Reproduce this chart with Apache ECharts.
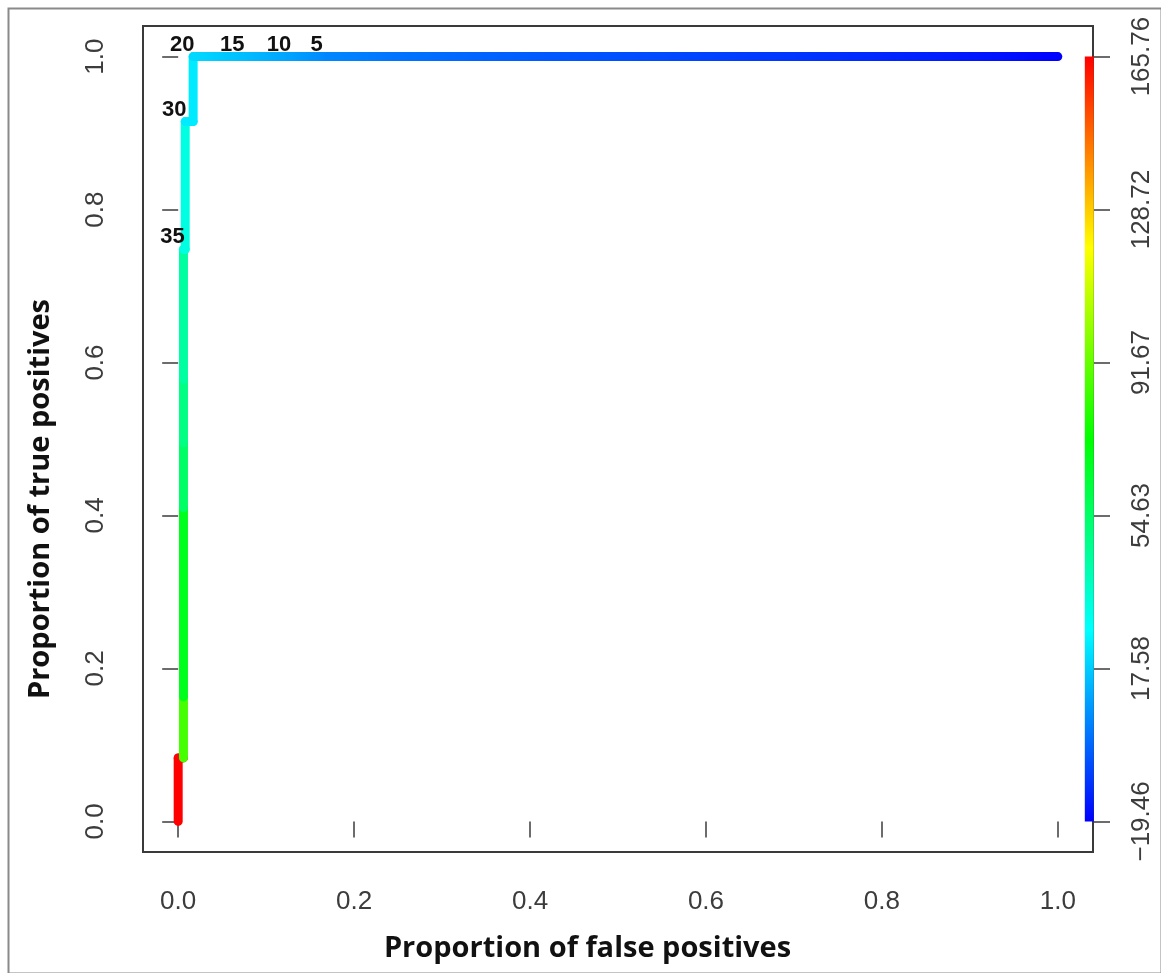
<!DOCTYPE html>
<html>
<head>
<meta charset="utf-8">
<script src="https://cdn.jsdelivr.net/npm/echarts@6/dist/echarts.min.js"></script>
<style>
html,body{margin:0;padding:0;background:#fff;}
#chart{width:1161px;height:973px;}
</style>
</head>
<body>
<div id="chart"></div>
<script>
// ROC curve points (false positive rate, true positive rate, cutoff)
const fpr    = [0, 0, 0.006, 0.006, 0.006, 0.006, 0.006, 0.006, 0.006, 0.006, 0.006, 0.006, 0.006, 0.006, 0.008, 0.008, 0.008, 0.017, 0.017, 0.017, 0.074, 0.127, 0.17, 0.25, 0.35, 0.45, 0.55, 0.65, 0.75, 0.85, 0.93, 1.0];
const tpr    = [0, 0.083, 0.083, 0.083, 0.163, 0.163, 0.41, 0.41, 0.495, 0.495, 0.578, 0.578, 0.748, 0.748, 0.748, 0.915, 0.915, 0.915, 1, 1, 1, 1, 1, 1, 1, 1, 1, 1, 1, 1, 1, 1];
const cutoff = [165.76, 165.76, 165.76, 85.9, 85.9, 67.8, 67.8, 55.0, 55.0, 49.5, 49.5, 44.1, 44.1, 32.2, 32.2, 32.2, 23.2, 23.2, 23.2, 20, 15, 10, 5, 1.5, -1.5, -4, -6, -8.5, -11, -13.5, -16, -19.46];

// printed cutoff labels and where they sit on the curve
const cutLabels   = [20, 15, 10, 5, 30, 35];
const cutLabelFpr = [0.017, 0.074, 0.127, 0.17, 0.008, 0.006];
const cutLabelTpr = [1, 1, 1, 1, 0.915, 0.748];

// axis ticks
const xTicks = [0, 0.2, 0.4, 0.6, 0.8, 1.0];
const yTicks = [0, 0.2, 0.4, 0.6, 0.8, 1.0];
const colorbarTicks = [-19.46, 17.58, 54.63, 91.67, 128.72, 165.76];
const cutMin = -19.46, cutMax = 165.76;
const colorbarX = 1.0358;

const pad = 0.04;
const cutRange = cutMax - cutMin;

function hsv(h, s, v) {
  const c = v * s, hp = h / 60, x = c * (1 - Math.abs(hp % 2 - 1));
  let r = 0, g = 0, b = 0;
  if (hp < 1) { r = c; g = x; } else if (hp < 2) { r = x; g = c; }
  else if (hp < 3) { g = c; b = x; } else if (hp < 4) { g = x; b = c; }
  else if (hp < 5) { r = x; b = c; } else { r = c; b = x; }
  const m = v - c;
  const to = t => Math.round((t + m) * 255);
  return 'rgb(' + to(r) + ',' + to(g) + ',' + to(b) + ')';
}
function rainbow(c) {
  let f = (c - cutMin) / cutRange;
  f = Math.max(0, Math.min(1, f));
  return hsv(240 * (1 - f), 1, 1);
}

const segs = [];
for (let i = 0; i < fpr.length - 1; i++) {
  segs.push([fpr[i], tpr[i], fpr[i + 1], tpr[i + 1], cutoff[i], cutoff[i + 1]]);
}
const labelData = cutLabels.map((v, i) => [cutLabelFpr[i], cutLabelTpr[i], v]);

const chart = echarts.init(document.getElementById('chart'), null, {renderer: 'canvas'});
const tickColor = '#3c3c3c';
const labelFont = {fontFamily: 'Liberation Sans, Arial, sans-serif', fontSize: 26, color: '#3c3c3c', lineHeight: 26};
const titleFont = {fontFamily: 'Open Sans, sans-serif', fontSize: 29, fontWeight: 'bold', color: '#111'};

chart.setOption({
  animation: false,
  backgroundColor: '#fff',
  graphic: [{
    type: 'rect', left: 6, top: 6, silent: true,
    shape: {width: 1153, height: 965},
    style: {fill: 'none', stroke: '#8a8a8a', lineWidth: 2}
  }],
  grid: {left: 143, top: 26, width: 950, height: 826, show: true, borderColor: '#3a3a3a', borderWidth: 2, backgroundColor: 'transparent'},
  xAxis: {
    type: 'value', min: -pad, max: 1 + pad,
    name: 'Proportion of false positives', nameLocation: 'middle', nameGap: 82,
    nameTextStyle: Object.assign({padding: [0, 61, 0, 0]}, titleFont),
    axisLine: {show: false},
    splitLine: {show: false},
    axisTick: {show: true, length: 16, customValues: xTicks, lineStyle: {color: tickColor, width: 1.5}},
    axisLabel: Object.assign({customValues: xTicks, margin: 37, formatter: v => v.toFixed(1)}, labelFont)
  },
  yAxis: [{
    type: 'value', min: -pad, max: 1 + pad, position: 'left',
    name: 'Proportion of true positives', nameLocation: 'middle', nameGap: 88,
    nameTextStyle: Object.assign({padding: [0, 120, 0, 0]}, titleFont),
    axisLine: {show: false},
    splitLine: {show: false},
    axisTick: {show: true, length: 16, customValues: yTicks, lineStyle: {color: tickColor, width: 1.5}},
    axisLabel: Object.assign({customValues: yTicks, margin: 34, rotate: 90, formatter: v => v.toFixed(1)}, labelFont)
  }, {
    type: 'value', min: cutMin - pad * cutRange, max: cutMax + pad * cutRange, position: 'right',
    axisLine: {show: false},
    splitLine: {show: false},
    axisTick: {show: true, length: 17, customValues: colorbarTicks, lineStyle: {color: tickColor, width: 1.5}},
    axisLabel: Object.assign({customValues: colorbarTicks, margin: 36, rotate: 90,
      formatter: v => (v < 0 ? '\u2212' : '') + Math.abs(v).toFixed(2)}, labelFont)
  }],
  series: [{
    type: 'custom',
    xAxisIndex: 0, yAxisIndex: 0,
    data: segs,
    encode: {x: [0, 2], y: [1, 3]},
    silent: true,
    renderItem: function (params, api) {
      const p0 = api.coord([api.value(0), api.value(1)]);
      const p1 = api.coord([api.value(2), api.value(3)]);
      if (Math.abs(p0[0] - p1[0]) < 0.01 && Math.abs(p0[1] - p1[1]) < 0.01) return null;
      const c0 = rainbow(api.value(4)), c1 = rainbow(api.value(5));
      const stroke = c0 === c1 ? c0 : new echarts.graphic.LinearGradient(p0[0], p0[1], p1[0], p1[1],
        [{offset: 0, color: c0}, {offset: 1, color: c1}], true);
      return {type: 'line', shape: {x1: p0[0], y1: p0[1], x2: p1[0], y2: p1[1]},
        style: {stroke: stroke, lineWidth: 9, lineCap: 'round'}};
    }
  }, {
    type: 'scatter',
    xAxisIndex: 0, yAxisIndex: 0,
    data: labelData,
    symbolSize: 0,
    silent: true,
    itemStyle: {color: '#111'},
    label: {
      show: true, position: 'top', distance: 1, offset: [-11, 0],
      formatter: p => String(p.value[2]),
      fontFamily: 'Liberation Sans, Arial, sans-serif', fontSize: 22, fontWeight: 'bold',
      color: '#111', textBorderWidth: 0, opacity: 1, lineHeight: 22
    }
  }, {
    type: 'custom',
    xAxisIndex: 0, yAxisIndex: 1,
    data: [[colorbarX, cutMin, cutMax]],
    encode: {x: 0, y: [1, 2]},
    silent: true,
    renderItem: function (params, api) {
      const pb = api.coord([api.value(0), api.value(1)]);
      const pt = api.coord([api.value(0), api.value(2)]);
      const grad = new echarts.graphic.LinearGradient(pb[0], pb[1], pt[0], pt[1], [
        {offset: 0, color: rainbow(cutMin)},
        {offset: 0.25, color: rainbow(cutMin + 0.25 * cutRange)},
        {offset: 0.5, color: rainbow(cutMin + 0.5 * cutRange)},
        {offset: 0.75, color: rainbow(cutMin + 0.75 * cutRange)},
        {offset: 1, color: rainbow(cutMax)}
      ], true);
      return {type: 'rect', shape: {x: pb[0] - 4.5, y: pt[1], width: 9, height: pb[1] - pt[1]},
        style: {fill: grad}};
    }
  }]
});
</script>
</body>
</html>
